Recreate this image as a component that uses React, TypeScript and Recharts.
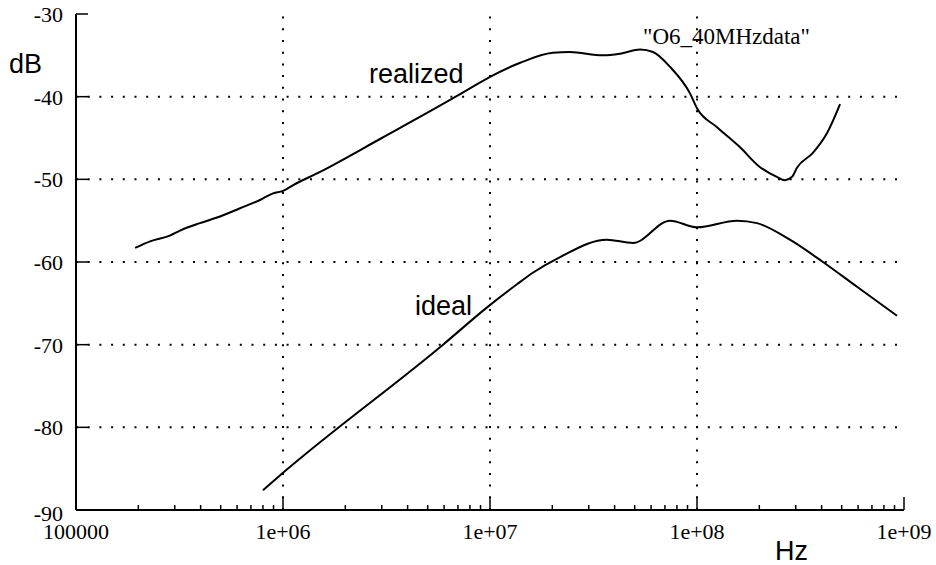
import React from 'react';
import { LineChart, Line, XAxis, YAxis, ReferenceLine } from 'recharts';

// realized ("O6_40MHzdata") response
const realizedFreq = [1.93e5, 2.28e5, 2.84e5, 3.18e5, 3.97e5, 4.96e5, 6.2e5, 7.74e5, 8.95e5, 1e6, 1.12e6, 1.51e6, 3.0e6, 6.41e6, 8.0e6, 1e7, 1.4e7, 2.01e7, 2.43e7, 3.51e7, 4.25e7, 5.31e7, 6.13e7, 7.41e7, 9.25e7, 1e8, 1.25e8, 1.61e8, 2.01e8, 2.43e8, 2.66e8, 2.88e8, 3.04e8, 3.63e8, 4.25e8, 4.91e8];
const realizedDb = [-58.3, -57.5, -56.8, -56.2, -55.3, -54.5, -53.5, -52.5, -51.7, -51.4, -50.7, -49.1, -45.0, -40.4, -39.0, -37.6, -35.9, -34.7, -34.6, -35.0, -34.8, -34.3, -34.6, -36.4, -39.6, -41.4, -43.7, -46.1, -48.5, -49.7, -50.1, -49.7, -48.6, -46.8, -44.4, -40.9];

// ideal response
const idealFreq = [8.0e5, 1e6, 5.93e6, 9.78e6, 1.35e7, 1.61e7, 2.18e7, 3.67e7, 4.91e7, 7.41e7, 1e8, 1.56e8, 1.95e8, 2.81e8, 4.06e8, 5.93e8, 9.25e8];
const idealDb = [-87.6, -85.5, -70.0, -65.4, -62.7, -61.3, -59.4, -57.3, -57.7, -55.0, -55.8, -55.0, -55.3, -57.3, -60.0, -63.0, -66.5];

// axes
const xMajorTicks = [1e5, 1e6, 1e7, 1e8, 1e9];
const xMajorLabels = ['100000', '1e+06', '1e+07', '1e+08', '1e+09'];
const xMinorMultipliers = [2, 3, 4, 5, 6, 7, 8, 9];
const xGrid = [1e6, 1e7, 1e8];
const yTicks = [-90, -80, -70, -60, -50, -40, -30];
const yLabels = ['-90', '-80', '-70', '-60', '-50', '-40', '-30'];
const yGrid = [-80, -70, -60, -50, -40];

const realizedData = realizedFreq.map((f, i) => ({ f, v: realizedDb[i] }));
const idealData = idealFreq.map((f, i) => ({ f, v: idealDb[i] }));
const xMinorTicks: number[] = [];
xMajorTicks.slice(0, -1).forEach((d) => xMinorMultipliers.forEach((m) => xMinorTicks.push(d * m)));
const xAllTicks = [...xMajorTicks, ...xMinorTicks].sort((a, b) => a - b);

const SERIF = 'Liberation Serif, Times New Roman, serif';
const SANS = 'Liberation Sans, Arial, sans-serif';

const majorIndex = (v: number) => xMajorTicks.findIndex((t) => Math.abs(t - v) / t < 1e-6);

const BottomTick = (props: any) => {
  const { x, y, payload } = props;
  const idx = majorIndex(payload.value);
  const major = idx >= 0;
  return (
    <g>
      <line x1={x} x2={x} y1={y} y2={y - (major ? 13 : 5)} stroke="#000" strokeWidth={1.5} />
      {major && (
        <text x={x} y={y + 29} textAnchor="middle" fontFamily={SERIF} fontSize={22} fill="#000">
          {xMajorLabels[idx]}
        </text>
      )}
    </g>
  );
};

const TopTick = (props: any) => {
  const { x, y, payload } = props;
  const major = majorIndex(payload.value) >= 0;
  return <line x1={x} x2={x} y1={y} y2={y + (major ? 11 : 5)} stroke="#000" strokeWidth={1.5} />;
};

const LeftTick = (props: any) => {
  const { x, y, payload } = props;
  const idx = yTicks.indexOf(payload.value);
  return (
    <g>
      <line x1={x} x2={x + 12} y1={y} y2={y} stroke="#000" strokeWidth={1.5} />
      <text x={x - 13} y={y + (idx === 0 ? 3 : 0)} dy="0.36em" textAnchor="end" fontFamily={SERIF} fontSize={22} fill="#000">
        {yLabels[idx]}
      </text>
    </g>
  );
};

const RightTick = (props: any) => {
  const { x, y } = props;
  return <line x1={x} x2={x - 13} y1={y} y2={y} stroke="#000" strokeWidth={1.5} />;
};

const axisLine = { stroke: '#000', strokeWidth: 2 };

export default function App() {
  return (
    <div style={{ position: 'absolute', left: 0, top: 0, width: 936, height: 565, background: '#fff' }}>
      <LineChart width={936} height={565} margin={{ top: 14, right: 32, bottom: 0, left: 0 }}>
        <XAxis
          xAxisId="b"
          dataKey="f"
          type="number"
          scale="log"
          domain={[1e5, 1e9]}
          allowDataOverflow
          ticks={xAllTicks}
          interval={0}
          tickSize={0}
          tickMargin={0}
          tickLine={false}
          tick={<BottomTick />}
          axisLine={axisLine}
          height={55}
        />
        <XAxis
          xAxisId="t"
          orientation="top"
          type="number"
          scale="log"
          domain={[1e5, 1e9]}
          allowDataOverflow
          ticks={xAllTicks}
          interval={0}
          tickSize={0}
          tickMargin={0}
          tickLine={false}
          tick={<TopTick />}
          axisLine={axisLine}
          height={0}
        />
        <YAxis
          yAxisId="l"
          type="number"
          domain={[-90, -30]}
          allowDataOverflow
          ticks={yTicks}
          interval={0}
          tickSize={0}
          tickMargin={0}
          tickLine={false}
          tick={<LeftTick />}
          axisLine={axisLine}
          width={76}
        />
        <YAxis
          yAxisId="r"
          orientation="right"
          type="number"
          domain={[-90, -30]}
          allowDataOverflow
          ticks={yTicks.slice(1, -1)}
          interval={0}
          tickSize={0}
          tickMargin={0}
          tickLine={false}
          tick={<RightTick />}
          axisLine={axisLine}
          width={0}
        />
        {xGrid.map((g) => (
          <ReferenceLine key={'x' + g} xAxisId="b" yAxisId="l" x={g} stroke="#000" strokeWidth={2} strokeDasharray="2 9.7" />
        ))}
        {yGrid.map((g) => (
          <ReferenceLine key={'y' + g} xAxisId="b" yAxisId="l" y={g} stroke="#000" strokeWidth={2} strokeDasharray="2 9.7" />
        ))}
        <Line
          xAxisId="b"
          yAxisId="l"
          data={realizedData}
          dataKey="v"
          type="monotone"
          stroke="#000"
          strokeWidth={2}
          dot={false}
          isAnimationActive={false}
        />
        <Line
          xAxisId="b"
          yAxisId="l"
          data={idealData}
          dataKey="v"
          type="monotone"
          stroke="#000"
          strokeWidth={2}
          dot={false}
          isAnimationActive={false}
        />
      </LineChart>
      <svg width={936} height={565} style={{ position: 'absolute', left: 0, top: 0, pointerEvents: 'none' }}>
        <text x={9} y={73} fontFamily={SANS} fontSize={27} fill="#000">dB</text>
        <text x={775} y={560} fontFamily={SANS} fontSize={27} fill="#000">Hz</text>
        <text x={369} y={83} fontFamily={SANS} fontSize={27} fill="#000">realized</text>
        <text x={415} y={315} fontFamily={SANS} fontSize={27} fill="#000">ideal</text>
        <text x={643} y={44} fontFamily={SERIF} fontSize={23} fill="#000">"O6_40MHzdata"</text>
      </svg>
    </div>
  );
}
